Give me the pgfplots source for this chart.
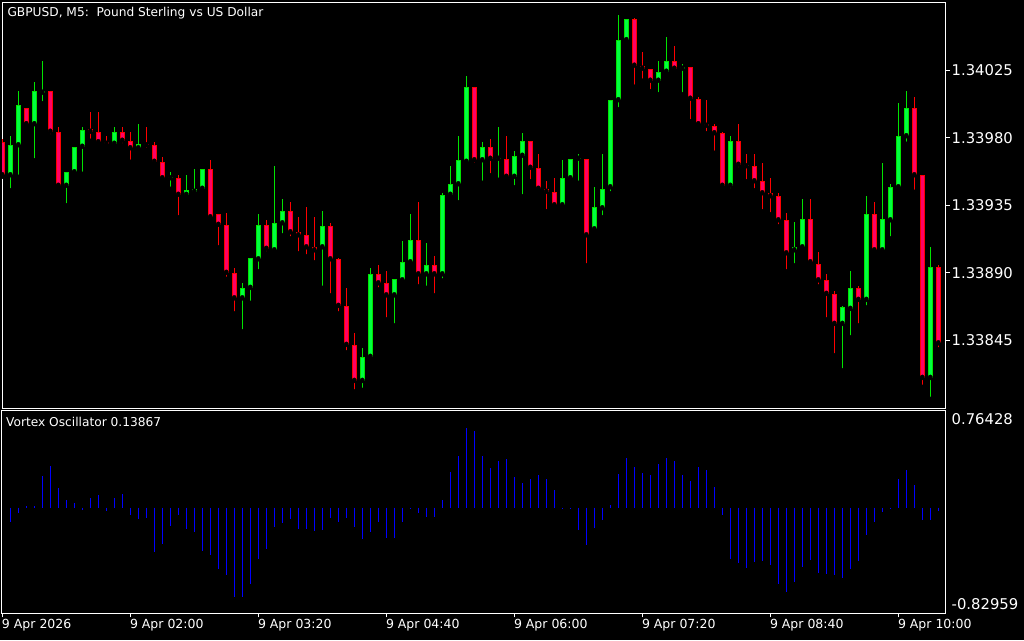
\documentclass[border=0pt]{standalone}
\usepackage{fontspec}
\setmainfont{DejaVu Sans}
\usepackage{pgfplots}
\usepackage{pgfplotstable}
\pgfplotsset{compat=1.18}
\definecolor{bullfill}{RGB}{0,255,64}
\definecolor{bulledge}{RGB}{0,228,0}
\definecolor{bearfill}{RGB}{255,0,102}
\definecolor{bearedge}{RGB}{255,0,0}
\definecolor{oscblue}{RGB}{0,0,255}

% GBPUSD M5 candles: prices in points (1e-5) above 1.33000, i.e. 955 = 1.33955
\pgfplotstableread{
i o h l c
1 955 981 945 975
2 975 1011 954 1002
4 989 1017 965 1011
5 1010 1031 1003 1011
8 948 957 935 957
9 957 974 957 974
10 974 987 956 985
14 976 987 975 984
17 973 989 973 976
21 953 957 946 953
23 942 955 940 945
24 944 959 943 946
25 946 959 944 959
30 873 883 851 880
31 880 900 870 900
32 899 929 891 922
34 905 961 903 923
35 923 939 915 931
40 907 931 880 921
45 818 840 812 834
46 834 893 832 889
49 875 886 855 886
50 885 911 885 897
51 897 929 897 912
53 889 910 880 895
55 889 943 885 942
56 942 961 940 949
57 949 981 937 965
58 964 1021 964 1014
60 965 977 950 974
62 966 987 952 966
64 954 971 947 968
65 968 983 941 978
70 935 965 933 953
71 953 966 951 966
72 966 969 950 966
74 919 947 917 934
75 933 969 927 946
76 947 1005 943 1005
77 1005 1062 999 1045
78 1045 1059 1044 1059
82 1018 1031 1009 1024
83 1024 1047 1023 1031
85 1026 1029 1009 1027
91 948 981 945 978
99 905 924 895 907
100 907 939 905 926
105 856 868 825 867
106 866 891 847 880
108 872 941 867 929
110 905 963 903 926
111 925 949 913 947
112 947 1003 947 981
113 981 1011 976 1000
116 820 907 806 894
}\bull

\pgfplotstableread{
i o h l c
0 977 979 954 955
3 1000 1000 989 989
6 1011 1011 981 984
7 984 987 948 948
11 986 997 978 984
12 984 997 975 977
13 977 981 974 976
15 984 987 975 978
16 978 984 964 973
18 976 987 972 975
19 975 977 963 964
20 964 967 953 953
22 953 955 927 942
26 959 965 925 927
27 929 929 907 922
28 922 930 886 890
29 890 893 863 873
33 922 925 903 906
36 931 937 913 917
37 917 927 903 915
38 915 934 901 907
39 907 927 897 905
41 921 923 875 899
42 899 900 863 868
43 868 880 837 842
44 842 850 811 818
47 889 895 879 883
48 883 891 859 875
52 912 937 881 889
54 895 901 875 889
59 1014 1014 962 965
61 974 979 955 966
63 966 981 954 954
66 978 978 951 960
67 960 969 946 946
68 946 951 931 944
69 944 953 935 935
73 966 966 895 915
79 1059 1060 1014 1028
80 1028 1037 1018 1026
81 1026 1026 1011 1018
84 1031 1041 1024 1026
86 1027 1027 991 1006
87 1006 1007 989 989
88 989 1005 983 988
89 988 989 970 983
90 983 984 946 948
92 978 989 959 962
93 962 969 951 961
94 961 969 945 951
95 951 963 931 943
96 943 953 929 941
97 941 943 921 925
98 925 930 891 903
101 926 939 895 897
102 896 904 881 885
103 885 889 859 876
104 876 878 835 856
107 880 881 855 872
109 929 937 903 905
114 1000 1007 944 955
115 955 955 814 820
117 894 895 839 843
}\bear

\pgfplotstableread{
i v
1 -0.116
2 -0.043
3 0.012
4 0.012
5 0.247
6 0.326
7 0.153
8 0.059
9 0.038
10 -0.022
11 0.075
12 0.101
13 -0.027
14 0.075
15 0.106
16 -0.059
17 -0.090
18 -0.082
19 -0.349
20 -0.289
21 -0.148
22 -0.054
23 -0.164
24 -0.192
25 -0.342
26 -0.368
27 -0.483
28 -0.525
29 -0.698
30 -0.698
31 -0.603
32 -0.404
33 -0.326
34 -0.153
35 -0.122
36 -0.088
37 -0.164
38 -0.164
39 -0.185
40 -0.179
41 -0.082
42 -0.114
43 -0.082
44 -0.153
45 -0.247
46 -0.192
47 -0.114
48 -0.239
49 -0.239
50 -0.114
51 -0.005
52 -0.041
53 -0.075
54 -0.075
55 0.059
56 0.279
57 0.404
58 0.627
59 0.603
60 0.404
61 0.310
62 0.365
63 0.381
64 0.239
65 0.192
66 0.224
67 0.255
68 0.224
69 0.135
70 -0.005
71 -0.005
72 -0.177
73 -0.294
74 -0.161
75 -0.098
76 0.020
77 0.263
78 0.389
79 0.318
80 0.271
81 0.260
82 0.339
83 0.386
84 0.365
85 0.260
86 0.208
87 0.318
88 0.292
89 0.161
90 -0.056
91 -0.404
92 -0.433
93 -0.475
94 -0.428
95 -0.417
96 -0.449
97 -0.601
98 -0.664
99 -0.585
100 -0.467
101 -0.412
102 -0.512
103 -0.522
104 -0.527
105 -0.554
106 -0.480
107 -0.417
108 -0.213
109 -0.114
110 -0.035
111 -0.005
112 0.224
113 0.292
114 0.177
115 -0.098
116 -0.098
117 -0.025
}\osc

\pgfplotsset{
  wick/.style={only marks, mark=none, forget plot,
    error bars/.cd, y dir=plus, y explicit, error mark=none,
    error bar style={draw=#1, line width=1pt, line cap=butt}},
  body/.style 2 args={only marks, mark=none, forget plot,
    error bars/.cd, y dir=plus, y explicit, error mark=none,
    error bar style={draw=#1, line width=#2, line cap=butt}},
}

\begin{document}
\begin{tikzpicture}[x=1pt,y=1pt]
\fill[black] (0,0) rectangle (1024,640);

\begin{axis}[
  at={(2pt,231.5pt)}, anchor=south west, scale only axis,
  width=943.5pt, height=406pt,
  xmin=-0.0375, xmax=117.9, ymin=799.6, ymax=1070.1,
  axis line style={white, line width=1pt},
  xtick=\empty,
  ytick={845,890,935,980,1025},
  yticklabels={1.33845,1.33890,1.33935,1.33980,1.34025},
  ytick pos=right, yticklabel pos=right, ytick align=outside,
  major tick length=4pt, tick style={white, line width=1pt},
  yticklabel style={font=\fontsize{14.8}{16}\selectfont, text=white,
    anchor=west, inner sep=0pt, xshift=2pt},
]
\addplot[wick=bulledge] table[x=i, y=l, y error plus expr=\thisrow{h}-\thisrow{l}] {\bull};
\addplot[wick=bearedge] table[x=i, y=l, y error plus expr=\thisrow{h}-\thisrow{l}] {\bear};
\addplot[body={bulledge}{5pt}] table[x=i, y=o, y error plus expr={max(\thisrow{c}-\thisrow{o},0.8)}] {\bull};
\addplot[body={bearedge}{5pt}] table[x=i, y=c, y error plus expr={max(\thisrow{o}-\thisrow{c},0.8)}] {\bear};
\addplot[body={bullfill}{3pt}] table[x=i, y expr=\thisrow{o}+0.667, y error plus expr={max(\thisrow{c}-\thisrow{o}-1.333,0)}] {\bull};
\addplot[body={bearfill}{3pt}] table[x=i, y expr=\thisrow{c}+0.667, y error plus expr={max(\thisrow{o}-\thisrow{c}-1.333,0)}] {\bear};
\end{axis}

\begin{axis}[
  at={(2pt,26.7pt)}, anchor=south west, scale only axis,
  width=943.5pt, height=203pt,
  xmin=-0.0375, xmax=117.9, ymin=-0.82959, ymax=0.76428,
  axis line style={white, line width=1pt},
  xtick={0,16,32,48,64,80,96,112},
  xticklabels={9 Apr 2026,9 Apr 02:00,9 Apr 03:20,9 Apr 04:40,9 Apr 06:00,9 Apr 07:20,9 Apr 08:40,9 Apr 10:00},
  xtick pos=bottom, xtick align=outside,
  major tick length=4pt, tick style={white, line width=1pt},
  xticklabel style={font=\fontsize{12.5}{14}\selectfont, text=white,
    anchor=north west, inner sep=0pt, yshift=-2pt, xshift=-0.5pt},
  ytick={0.76428}, yticklabels={0.76428},
  extra y ticks={-0.82959}, extra y tick labels={-0.82959},
  ytick pos=right, yticklabel pos=right,
  ytick style={draw=none},
  yticklabel style={font=\fontsize{14.8}{16}\selectfont, text=white,
    anchor=north west, inner sep=0pt, xshift=6pt, yshift=-3pt},
  extra y tick style={ytick style={draw=none},
    yticklabel style={anchor=south west, yshift=6pt}},
]
\addplot[ycomb, draw=oscblue, line width=1.3pt, mark=none] table[x=i, y=v] {\osc};
\end{axis}

\node[anchor=west, inner sep=0pt, text=white, font=\fontsize{12.2}{14}\selectfont] at (7.3,627) {GBPUSD, M5:\ \ Pound Sterling vs US Dollar};
\node[anchor=west, inner sep=0pt, text=white, font=\fontsize{12.2}{14}\selectfont] at (6,218) {Vortex Oscillator 0.13867};
\pgfresetboundingbox
\useasboundingbox (0,0) rectangle (1024,640);
\end{tikzpicture}
\end{document}
